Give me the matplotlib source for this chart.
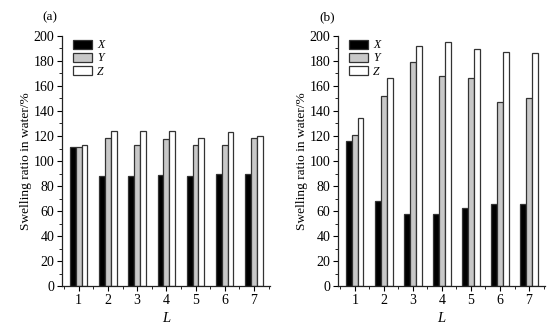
import matplotlib
matplotlib.use("Agg")
import matplotlib.pyplot as plt
import numpy as np
from matplotlib.ticker import MultipleLocator

plt.rcParams['font.family'] = ['Liberation Serif', 'DejaVu Serif']
plt.rcParams['mathtext.fontset'] = 'stix'

L = [1, 2, 3, 4, 5, 6, 7]
series = ['X', 'Y', 'Z']
a_X = [111, 88, 88, 89, 88, 90, 90]
a_Y = [111, 118.7, 112.8, 117.3, 112.8, 112.8, 118.7]
a_Z = [112.5, 124, 124, 124, 118.7, 123.2, 120]
b_X = [116, 68, 58, 58, 62.4, 66, 66]
b_Y = [120.5, 152, 179.5, 168, 166.7, 147, 150.7]
b_Z = [134.4, 166.7, 192, 195.5, 189.6, 187, 186]
colors = ['#000000', '#c8c8c8', '#ffffff']
panel_labels = ['(a)', '(b)']

fig = plt.figure(figsize=(5.59, 3.33), dpi=100)
axes_pos = [[0.111, 0.141, 0.372, 0.751], [0.605, 0.141, 0.370, 0.751]]
data = [[a_X, a_Y, a_Z], [b_X, b_Y, b_Z]]
label_x = [50 / 559, 327 / 559]

w = 0.2
x = np.array(L, dtype=float)
for i in range(2):
    ax = fig.add_axes(axes_pos[i])
    for j, (s, vals) in enumerate(zip(series, data[i])):
        ax.bar(x + (j - 1) * w, vals, width=w, color=colors[j], edgecolor='#333333',
               linewidth=0.9, label=s)
    ax.set_xlim(0.43, 7.55)
    ax.set_ylim(0, 200)
    ax.yaxis.set_major_locator(MultipleLocator(20))
    ax.yaxis.set_minor_locator(MultipleLocator(10))
    ax.set_xticks(L)
    ax.xaxis.set_minor_locator(MultipleLocator(0.5))
    for sp in ['top', 'right']:
        ax.spines[sp].set_visible(False)
    for sp in ['left', 'bottom']:
        ax.spines[sp].set_linewidth(0.9)
        ax.spines[sp].set_color('#222222')
    ax.tick_params(axis='both', which='major', direction='out', length=3.5, width=0.8,
                   labelsize=10, pad=2)
    ax.tick_params(axis='both', which='minor', direction='out', length=2, width=0.6)
    ax.set_ylabel('Swelling ratio in water/%', fontsize=9.6, labelpad=1)
    ax.set_xlabel('L', fontsize=10.5, fontstyle='italic', labelpad=4)
    ax.legend(loc='upper left', bbox_to_anchor=(0.02, 1.015), frameon=False,
              handlelength=1.6, handleheight=0.75, labelspacing=0.1,
              handletextpad=0.4, borderaxespad=0.2, prop={'style': 'italic', 'size': 8.5})
    fig.text(label_x[i], 1 - 17 / 333, panel_labels[i], fontsize=9.5, ha='center', va='center')

fig.savefig('out.png', dpi=100)
